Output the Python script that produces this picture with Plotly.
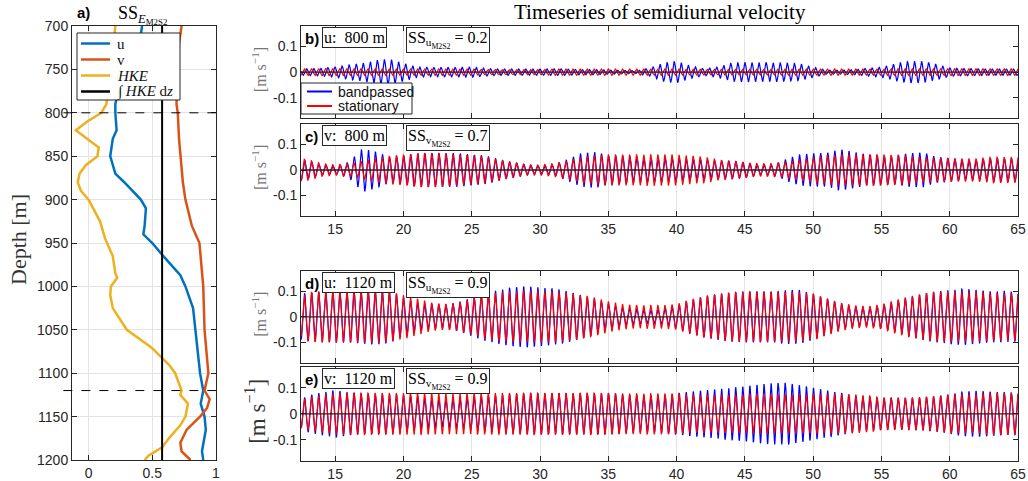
import numpy as np
import plotly.graph_objects as go

# ---------------- panel a: skill-score profiles ----------------
u_depth = [700, 710, 750, 790, 800, 820, 830, 850, 870, 880, 900, 910, 930, 940, 950, 964, 987,
           1000, 1025, 1050, 1100, 1120, 1135, 1150, 1165, 1190, 1200]
u_ss = [0.42, 0.41, 0.27, 0.21, 0.21, 0.22, 0.19, 0.17, 0.21, 0.28, 0.41, 0.45, 0.44, 0.43, 0.50,
        0.58, 0.72, 0.76, 0.82, 0.84, 0.875, 0.90, 0.88, 0.91, 0.92, 0.89, 0.90]
v_depth = [700, 720, 790, 800, 830, 850, 880, 900, 930, 950, 1000, 1050, 1100, 1120, 1130, 1140,
           1150, 1165, 1180, 1190, 1200]
v_ss = [0.73, 0.71, 0.69, 0.70, 0.71, 0.72, 0.74, 0.76, 0.81, 0.87, 0.90, 0.91, 0.94, 0.91, 0.95,
        0.93, 0.875, 0.77, 0.72, 0.73, 0.80]
hke_depth = [700, 715, 790, 800, 810, 820, 840, 850, 860, 870, 880, 890, 900, 925, 945, 965, 985,
             990, 1000, 1010, 1025, 1050, 1070, 1080, 1090, 1100, 1115, 1120, 1125, 1135, 1150,
             1160, 1175, 1185, 1195, 1200]
hke_ss = [0.21, 0.20, 0.14, 0.10, -0.01, -0.10, 0.08, 0.07, -0.02, -0.07, -0.085, -0.06, 0.0,
          0.09, 0.13, 0.19, 0.21, 0.225, 0.175, 0.17, 0.19, 0.30, 0.49, 0.56, 0.63, 0.68, 0.72,
          0.73, 0.72, 0.78, 0.76, 0.72, 0.63, 0.58, 0.47, 0.44]
hke_int_ss = 0.577
depth_limits = [700, 1200]
marked_depths = [800, 1120]

# ---------------- panels b-e: amplitude envelopes (m/s) read per day ----------------
env_days = [12.5] + list(range(13, 66))
b_band = [0.012, 0.013, 0.015, 0.02, 0.028, 0.035, 0.045, 0.05, 0.035, 0.02, 0.018, 0.018, 0.018,
          0.02, 0.015, 0.012, 0.012, 0.012, 0.012, 0.013, 0.012, 0.01, 0.01, 0.008, 0.007, 0.006,
          0.015, 0.035, 0.042, 0.025, 0.013, 0.02, 0.035, 0.038, 0.037, 0.037, 0.035, 0.033, 0.02,
          0.008, 0.008, 0.01, 0.015, 0.02, 0.033, 0.042, 0.042, 0.03, 0.016, 0.014, 0.013, 0.012,
          0.012, 0.012]
b_stat = [0.012, 0.013, 0.013, 0.013, 0.013, 0.013, 0.013, 0.012, 0.012, 0.012, 0.012, 0.012,
          0.012, 0.012, 0.01, 0.01, 0.01, 0.01, 0.01, 0.012, 0.012, 0.012, 0.012, 0.012, 0.012,
          0.012, 0.012, 0.012, 0.012, 0.011, 0.011, 0.011, 0.011, 0.011, 0.011, 0.011, 0.012,
          0.012, 0.012, 0.012, 0.012, 0.012, 0.012, 0.012, 0.013, 0.013, 0.013, 0.013, 0.013,
          0.013, 0.013, 0.013, 0.013, 0.013]
c_band = [0.04, 0.035, 0.02, 0.015, 0.03, 0.085, 0.07, 0.05, 0.055, 0.065, 0.065, 0.065, 0.065,
          0.06, 0.055, 0.04, 0.03, 0.02, 0.015, 0.02, 0.04, 0.065, 0.07, 0.055, 0.055, 0.05, 0.045,
          0.045, 0.045, 0.04, 0.04, 0.035, 0.035, 0.03, 0.02, 0.02, 0.04, 0.06, 0.065, 0.065, 0.08,
          0.07, 0.06, 0.055, 0.055, 0.065, 0.068, 0.05, 0.045, 0.04, 0.04, 0.045, 0.045, 0.045]
c_stat = [0.045, 0.04, 0.025, 0.02, 0.025, 0.035, 0.045, 0.055, 0.06, 0.065, 0.065, 0.065, 0.06,
          0.055, 0.05, 0.04, 0.03, 0.02, 0.02, 0.025, 0.035, 0.05, 0.055, 0.06, 0.06, 0.06, 0.06,
          0.06, 0.06, 0.055, 0.05, 0.04, 0.035, 0.03, 0.025, 0.025, 0.03, 0.04, 0.05, 0.055, 0.06,
          0.06, 0.06, 0.06, 0.058, 0.055, 0.05, 0.045, 0.045, 0.045, 0.045, 0.05, 0.05, 0.05]
d_band = [0.09, 0.095, 0.1, 0.1, 0.1, 0.105, 0.11, 0.1, 0.075, 0.055, 0.05, 0.045, 0.055, 0.075,
          0.095, 0.105, 0.115, 0.12, 0.115, 0.11, 0.1, 0.085, 0.07, 0.05, 0.035, 0.03, 0.025, 0.03,
          0.045, 0.065, 0.08, 0.09, 0.095, 0.1, 0.1, 0.1, 0.105, 0.105, 0.09, 0.07, 0.05, 0.04,
          0.035, 0.045, 0.06, 0.075, 0.09, 0.1, 0.105, 0.11, 0.105, 0.1, 0.1, 0.095]
d_stat = [0.075, 0.095, 0.1, 0.1, 0.1, 0.1, 0.1, 0.1, 0.085, 0.07, 0.055, 0.05, 0.055, 0.07, 0.085,
          0.095, 0.1, 0.1, 0.1, 0.1, 0.095, 0.085, 0.075, 0.06, 0.05, 0.045, 0.045, 0.045, 0.05,
          0.068, 0.08, 0.088, 0.097, 0.097, 0.097, 0.097, 0.097, 0.097, 0.09, 0.072, 0.055, 0.045,
          0.042, 0.047, 0.065, 0.08, 0.09, 0.097, 0.097, 0.097, 0.097, 0.092, 0.092, 0.092]
e_band = [0.055, 0.07, 0.082, 0.09, 0.082, 0.078, 0.076, 0.075, 0.07, 0.065, 0.055, 0.05, 0.055,
          0.062, 0.068, 0.072, 0.075, 0.078, 0.078, 0.078, 0.078, 0.078, 0.078, 0.078, 0.074,
          0.072, 0.07, 0.072, 0.078, 0.085, 0.09, 0.095, 0.1, 0.105, 0.112, 0.118, 0.118, 0.11,
          0.1, 0.09, 0.08, 0.07, 0.065, 0.062, 0.06, 0.06, 0.062, 0.068, 0.075, 0.085, 0.088,
          0.085, 0.082, 0.08]
e_stat = [0.055, 0.06, 0.07, 0.078, 0.08, 0.08, 0.08, 0.08, 0.08, 0.08, 0.078, 0.078, 0.078,
          0.078, 0.078, 0.08, 0.08, 0.08, 0.08, 0.08, 0.08, 0.08, 0.08, 0.08, 0.078, 0.078, 0.078,
          0.078, 0.078, 0.072, 0.072, 0.072, 0.072, 0.075, 0.075, 0.075, 0.075, 0.075, 0.075,
          0.075, 0.075, 0.075, 0.07, 0.062, 0.062, 0.062, 0.065, 0.065, 0.075, 0.075, 0.075, 0.08,
          0.08, 0.08]
band_lag = {"b": 2.0, "c": 0.3, "d": 0.12, "e": 0.12}   # phase lag of bandpassed vs stationary (rad)
m2_period = 12.42 / 24.0
t0 = 12.75

panels = [
    ("b", "u:  800 m", "u", "0.2", b_band, b_stat),
    ("c", "v:  800 m", "v", "0.7", c_band, c_stat),
    ("d", "u:  1120 m", "u", "0.9", d_band, d_stat),
    ("e", "v:  1120 m", "v", "0.9", e_band, e_stat),
]
x_ticks = [15, 20, 25, 30, 35, 40, 45, 50, 55, 60, 65]

W, H = 1028, 481
def px(x):
    return x / W
def py(y):
    return 1 - y / H

AX = "#262626"
SERIF = "Liberation Serif"
SANS = "Liberation Sans"
C_U, C_V, C_H = "#0072BD", "#D95319", "#EDB120"
C_B, C_R = "#0000FF", "#FF0000"

fig = go.Figure()

# panel a traces
fig.add_trace(go.Scatter(x=u_ss, y=u_depth, mode="lines", name="u",
                         line=dict(color=C_U, width=2.5), xaxis="x", yaxis="y"))
fig.add_trace(go.Scatter(x=v_ss, y=v_depth, mode="lines", name="v",
                         line=dict(color=C_V, width=2.5), xaxis="x", yaxis="y"))
fig.add_trace(go.Scatter(x=hke_ss, y=hke_depth, mode="lines", name="HKE",
                         line=dict(color=C_H, width=2.5), xaxis="x", yaxis="y"))
fig.add_trace(go.Scatter(x=[hke_int_ss, hke_int_ss], y=depth_limits, mode="lines",
                         name="int HKE dz", line=dict(color="black", width=2),
                         xaxis="x", yaxis="y"))

t = np.arange(12.5, 65.0 + 1e-9, 0.02)
carrier = 2 * np.pi * (t - t0) / m2_period

top_px = [26, 124, 271, 367]
bot_px = [118.3, 216, 362.7, 460.7]
for i, (lab, depth_txt, comp, ss, band, stat) in enumerate(panels):
    k = i + 2
    xa, ya = f"x{k}", f"y{k}"
    amp_b = np.interp(t, env_days, band)
    amp_s = np.interp(t, env_days, stat)
    fig.add_trace(go.Scatter(x=t, y=amp_b * np.cos(carrier - band_lag[lab]), mode="lines",
                             name="bandpassed", line=dict(color=C_B, width=1.2),
                             xaxis=xa, yaxis=ya))
    fig.add_trace(go.Scatter(x=t, y=amp_s * np.cos(carrier), mode="lines",
                             name="stationary", line=dict(color=C_R, width=1.2),
                             xaxis=xa, yaxis=ya))

common = dict(showline=True, linecolor=AX, mirror="allticks", ticks="inside", ticklen=5,
              tickcolor=AX, automargin=False, zeroline=False, tickfont=dict(size=14, color=AX))
layout = dict(
    width=W, height=H, margin=dict(l=0, r=0, t=0, b=0, autoexpand=False),
    paper_bgcolor="white", plot_bgcolor="white", showlegend=False,
    font=dict(family=SANS, size=14, color=AX),
    xaxis=dict(domain=[px(72), px(216)], range=[-0.13, 1.0], tickvals=[0, 0.5, 1],
               ticktext=["0", "0.5", "1"], showgrid=True, gridcolor="#e3e3e3", anchor="y",
               **common),
    yaxis=dict(domain=[py(460), py(26)], range=[1200, 700], tickvals=list(range(700, 1201, 50)),
               showgrid=True, gridcolor="#e3e3e3", anchor="x", **common),
)
for i in range(4):
    k = i + 2
    layout[f"xaxis{k}"] = dict(domain=[px(301), px(1018)], range=[12.5, 65], tickvals=x_ticks,
                               showticklabels=(k in (3, 5)), showgrid=True, gridcolor="#e3e3e3",
                               anchor=f"y{k}", **common)
    layout[f"yaxis{k}"] = dict(domain=[py(bot_px[i]), py(top_px[i])], range=[-0.18, 0.18],
                               tickvals=[-0.1, 0, 0.1], ticktext=["-0.1", "0", "0.1"],
                               showgrid=False, anchor=f"x{k}", **common)
fig.update_layout(**layout)

shapes = []
ann = []
for d in marked_depths:
    shapes.append(dict(type="line", xref="x domain", yref="y", x0=-0.06, x1=1, y0=d, y1=d,
                       line=dict(color="black", width=1, dash="dash")))
for i in range(4):
    k = i + 2
    shapes.append(dict(type="line", xref=f"x{k} domain", yref=f"y{k}", x0=0, x1=1, y0=0, y1=0,
                       line=dict(color="#222", width=1.3), layer="above"))

# legend of panel a (drawn as box + line samples + text)
shapes.append(dict(type="rect", xref="paper", yref="paper", x0=px(77), x1=px(180), y0=py(100),
                   y1=py(33), fillcolor="white", line=dict(color=AX, width=1), layer="above"))
leg_a = [(C_U, "u", 43.5), (C_V, "v", 59.5), (C_H, "<i>HKE</i>", 75.5),
         ("black", "∫ <i>HKE</i> d<i>z</i>", 91.5)]
for col, txt, yy in leg_a:
    shapes.append(dict(type="line", xref="paper", yref="paper", x0=px(81), x1=px(110),
                       y0=py(yy), y1=py(yy), line=dict(color=col, width=2.5), layer="above"))
    ann.append(dict(text=txt, x=px(115), y=py(yy), xref="paper", yref="paper", xanchor="left",
                    yanchor="middle", showarrow=False,
                    font=dict(family=SERIF, size=15, color="#111")))
# legend of panel b
shapes.append(dict(type="rect", xref="paper", yref="paper", x0=px(301), x1=px(412), y0=py(114),
                   y1=py(83), fillcolor="white", line=dict(color=AX, width=1), layer="above"))
for col, txt, yy in [(C_B, "bandpassed", 91.5), (C_R, "stationary", 106)]:
    shapes.append(dict(type="line", xref="paper", yref="paper", x0=px(307), x1=px(332),
                       y0=py(yy), y1=py(yy), line=dict(color=col, width=2), layer="above"))
    ann.append(dict(text=txt, x=px(336), y=py(yy), xref="paper", yref="paper", xanchor="left",
                    yanchor="middle", showarrow=False,
                    font=dict(family=SANS, size=14, color="#111")))
fig.update_layout(shapes=shapes)

ann.append(dict(text="<b>a)</b>", x=px(75), y=py(13), xref="paper", yref="paper",
                xanchor="left", yanchor="middle", showarrow=False,
                font=dict(family=SANS, size=15, color="black")))
ann.append(dict(text="SS<sub><i>E</i><sub>M2S2</sub></sub>", x=px(142), y=py(1), xref="paper",
                yref="paper", xanchor="center", yanchor="top", showarrow=False,
                font=dict(family=SERIF, size=18, color="black")))
ann.append(dict(text="Timeseries of semidiurnal velocity", x=px(660), y=py(12), xref="paper",
                yref="paper", xanchor="center", yanchor="middle", showarrow=False,
                font=dict(family=SERIF, size=21, color="black")))
ann.append(dict(text="Depth [m]", x=px(18), y=py(240), xref="paper", yref="paper",
                xanchor="center", yanchor="middle", textangle=-90, showarrow=False,
                font=dict(family=SERIF, size=22, color="#333")))
for i, (lab, depth_txt, comp, ss, band, stat) in enumerate(panels):
    T = top_px[i]
    ann.append(dict(text=f"<b>{lab})</b>", x=px(303), y=py(T + 2), xref="paper", yref="paper",
                    xanchor="left", yanchor="top", showarrow=False,
                    font=dict(family=SANS, size=15, color="black")))
    ann.append(dict(text=depth_txt, x=px(322), y=py(T + 1), xref="paper", yref="paper",
                    xanchor="left", yanchor="top", showarrow=False, bgcolor="white",
                    bordercolor=AX, borderwidth=1, borderpad=1,
                    font=dict(family=SERIF, size=16, color="black")))
    ann.append(dict(text=f"SS<sub>{comp}<sub>M2S2</sub></sub> = {ss}", x=px(406), y=py(T + 1),
                    xref="paper", yref="paper", xanchor="left", yanchor="top", showarrow=False,
                    bgcolor="white", bordercolor=AX, borderwidth=1, borderpad=1,
                    font=dict(family=SERIF, size=16, color="black")))
    yc = (T + bot_px[i]) / 2 - 2
    big = (i == 3)
    ann.append(dict(text="[m s<sup>−1</sup>]", x=px(259 if not big else 256), y=py(yc),
                    xref="paper", yref="paper", xanchor="center", yanchor="middle",
                    textangle=-90, showarrow=False,
                    font=dict(family=SERIF, size=23 if big else 16,
                              color="#333" if big else "#777")))
fig.update_layout(annotations=ann)

fig.write_html("out.html")
